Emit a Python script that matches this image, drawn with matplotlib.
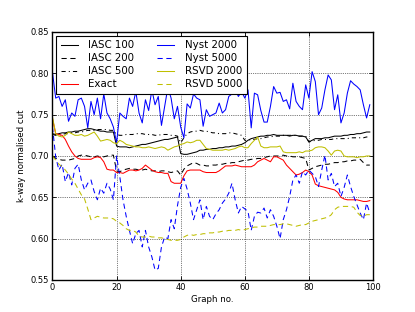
import numpy as np
import matplotlib
matplotlib.use("Agg")
import matplotlib.pyplot as plt

graph_no = np.arange(100)

iasc_100 = [0.727, 0.726, 0.727, 0.728, 0.728, 0.729, 0.729, 0.730, 0.730, 0.731,
            0.732, 0.733, 0.733, 0.732, 0.731, 0.730, 0.730, 0.729, 0.729, 0.729,
            0.712, 0.711, 0.711, 0.711, 0.710, 0.711, 0.712, 0.713, 0.714, 0.714,
            0.715, 0.716, 0.717, 0.718, 0.719, 0.720, 0.720, 0.721, 0.722, 0.723,
            0.703, 0.702, 0.702, 0.703, 0.704, 0.705, 0.707, 0.707, 0.708, 0.708,
            0.709, 0.709, 0.710, 0.710, 0.711, 0.711, 0.712, 0.712, 0.713, 0.714,
            0.716, 0.719, 0.721, 0.722, 0.723, 0.724, 0.724, 0.725, 0.725, 0.726,
            0.725, 0.725, 0.725, 0.725, 0.724, 0.725, 0.725, 0.724, 0.724, 0.723,
            0.717, 0.719, 0.721, 0.721, 0.721, 0.722, 0.722, 0.723, 0.724, 0.724,
            0.724, 0.725, 0.725, 0.726, 0.726, 0.727, 0.727, 0.728, 0.729, 0.729]

iasc_200 = [0.700, 0.697, 0.696, 0.695, 0.695, 0.695, 0.696, 0.697, 0.700, 0.701,
            0.701, 0.700, 0.699, 0.699, 0.700, 0.699, 0.699, 0.700, 0.701, 0.701,
            0.682, 0.681, 0.683, 0.684, 0.685, 0.684, 0.684, 0.683, 0.683, 0.684,
            0.683, 0.682, 0.682, 0.681, 0.682, 0.682, 0.681, 0.680, 0.681, 0.682,
            0.677, 0.684, 0.688, 0.690, 0.692, 0.691, 0.689, 0.689, 0.688, 0.688,
            0.689, 0.689, 0.690, 0.690, 0.691, 0.691, 0.692, 0.692, 0.693, 0.694,
            0.695, 0.695, 0.696, 0.696, 0.697, 0.697, 0.698, 0.699, 0.700, 0.700,
            0.700, 0.700, 0.701, 0.700, 0.700, 0.699, 0.699, 0.699, 0.698, 0.697,
            0.683, 0.685, 0.687, 0.688, 0.689, 0.690, 0.690, 0.691, 0.692, 0.692,
            0.693, 0.693, 0.694, 0.694, 0.695, 0.695, 0.696, 0.692, 0.689, 0.689]

iasc_500 = [0.726, 0.725, 0.725, 0.726, 0.727, 0.727, 0.728, 0.728, 0.729, 0.729,
            0.730, 0.731, 0.731, 0.731, 0.732, 0.732, 0.732, 0.732, 0.731, 0.731,
            0.726, 0.725, 0.725, 0.726, 0.726, 0.726, 0.727, 0.727, 0.727, 0.726,
            0.726, 0.726, 0.725, 0.725, 0.726, 0.726, 0.726, 0.725, 0.725, 0.724,
            0.716, 0.722, 0.727, 0.729, 0.730, 0.730, 0.731, 0.730, 0.730, 0.729,
            0.728, 0.728, 0.727, 0.727, 0.727, 0.728, 0.728, 0.727, 0.726, 0.725,
            0.719, 0.719, 0.720, 0.720, 0.721, 0.721, 0.722, 0.723, 0.723, 0.724,
            0.724, 0.724, 0.725, 0.725, 0.725, 0.725, 0.725, 0.724, 0.724, 0.724,
            0.717, 0.718, 0.719, 0.719, 0.720, 0.720, 0.720, 0.720, 0.721, 0.721,
            0.721, 0.721, 0.721, 0.722, 0.722, 0.722, 0.722, 0.722, 0.723, 0.723]

exact = [0.745, 0.727, 0.726, 0.725, 0.720, 0.712, 0.705, 0.700, 0.697, 0.696,
         0.696, 0.696, 0.696, 0.698, 0.699, 0.698, 0.693, 0.684, 0.683, 0.683,
         0.680, 0.680, 0.679, 0.681, 0.683, 0.683, 0.682, 0.683, 0.685, 0.689,
         0.686, 0.683, 0.681, 0.680, 0.680, 0.679, 0.679, 0.669, 0.667, 0.667,
         0.667, 0.676, 0.682, 0.683, 0.683, 0.683, 0.683, 0.681, 0.680, 0.680,
         0.680, 0.680, 0.682, 0.685, 0.688, 0.688, 0.688, 0.689, 0.688, 0.687,
         0.687, 0.687, 0.687, 0.689, 0.693, 0.695, 0.697, 0.695, 0.693, 0.699,
         0.699, 0.697, 0.695, 0.689, 0.685, 0.681, 0.677, 0.678, 0.680, 0.683,
         0.681, 0.677, 0.666, 0.664, 0.663, 0.662, 0.661, 0.660, 0.659, 0.656,
         0.650, 0.648, 0.647, 0.647, 0.647, 0.647, 0.646, 0.645, 0.645, 0.646]

nyst_2000 = [0.801, 0.770, 0.772, 0.760, 0.768, 0.742, 0.752, 0.748, 0.768, 0.770,
             0.760, 0.734, 0.766, 0.750, 0.770, 0.745, 0.775, 0.752, 0.745, 0.735,
             0.716, 0.752, 0.748, 0.745, 0.770, 0.760, 0.778, 0.752, 0.740, 0.768,
             0.755, 0.780, 0.762, 0.772, 0.737, 0.760, 0.783, 0.770, 0.745, 0.760,
             0.735, 0.722, 0.763, 0.758, 0.775, 0.770, 0.768, 0.736, 0.756, 0.748,
             0.750, 0.752, 0.764, 0.752, 0.756, 0.772, 0.775, 0.780, 0.772, 0.778,
             0.770, 0.780, 0.734, 0.776, 0.774, 0.755, 0.741, 0.741, 0.760, 0.784,
             0.776, 0.777, 0.766, 0.768, 0.757, 0.788, 0.766, 0.760, 0.756, 0.786,
             0.770, 0.802, 0.790, 0.750, 0.758, 0.780, 0.798, 0.792, 0.756, 0.774,
             0.740, 0.752, 0.776, 0.791, 0.787, 0.784, 0.780, 0.762, 0.746, 0.762]

nyst_5000 = [0.735, 0.699, 0.683, 0.690, 0.669, 0.680, 0.665, 0.685, 0.690, 0.671,
             0.659, 0.667, 0.671, 0.657, 0.647, 0.661, 0.655, 0.667, 0.660, 0.647,
             0.700, 0.675, 0.647, 0.627, 0.610, 0.594, 0.606, 0.610, 0.590, 0.610,
             0.590, 0.578, 0.562, 0.564, 0.590, 0.602, 0.600, 0.623, 0.612, 0.640,
             0.662, 0.673, 0.660, 0.643, 0.623, 0.635, 0.647, 0.623, 0.639, 0.627,
             0.623, 0.630, 0.635, 0.643, 0.648, 0.655, 0.667, 0.647, 0.631, 0.639,
             0.636, 0.633, 0.610, 0.627, 0.632, 0.631, 0.637, 0.625, 0.635, 0.627,
             0.615, 0.600, 0.623, 0.635, 0.651, 0.671, 0.677, 0.667, 0.681, 0.677,
             0.683, 0.679, 0.675, 0.663, 0.683, 0.701, 0.671, 0.679, 0.663, 0.667,
             0.651, 0.662, 0.677, 0.663, 0.651, 0.641, 0.631, 0.623, 0.643, 0.631]

rsvd_2000 = [0.747, 0.727, 0.724, 0.723, 0.725, 0.729, 0.727, 0.725, 0.725, 0.726,
             0.724, 0.725, 0.727, 0.729, 0.724, 0.718, 0.719, 0.720, 0.719, 0.716,
             0.715, 0.719, 0.717, 0.714, 0.713, 0.712, 0.711, 0.711, 0.710, 0.710,
             0.711, 0.710, 0.709, 0.710, 0.711, 0.710, 0.707, 0.709, 0.711, 0.712,
             0.714, 0.715, 0.717, 0.716, 0.717, 0.719, 0.719, 0.714, 0.709, 0.708,
             0.707, 0.707, 0.707, 0.707, 0.708, 0.707, 0.708, 0.709, 0.711, 0.712,
             0.710, 0.710, 0.715, 0.719, 0.723, 0.712, 0.710, 0.710, 0.711, 0.711,
             0.711, 0.712, 0.705, 0.704, 0.704, 0.704, 0.704, 0.705, 0.704, 0.706,
             0.706, 0.707, 0.710, 0.711, 0.711, 0.710, 0.706, 0.701, 0.706, 0.707,
             0.706, 0.700, 0.699, 0.699, 0.699, 0.698, 0.699, 0.699, 0.700, 0.700]

rsvd_5000 = [0.700, 0.695, 0.690, 0.687, 0.683, 0.678, 0.672, 0.667, 0.660, 0.653,
             0.648, 0.636, 0.623, 0.625, 0.627, 0.626, 0.625, 0.625, 0.625, 0.624,
             0.621, 0.619, 0.616, 0.612, 0.610, 0.610, 0.608, 0.603, 0.602, 0.602,
             0.603, 0.602, 0.602, 0.601, 0.601, 0.600, 0.599, 0.598, 0.598, 0.598,
             0.599, 0.602, 0.604, 0.605, 0.604, 0.605, 0.605, 0.606, 0.606, 0.607,
             0.607, 0.608, 0.608, 0.609, 0.609, 0.610, 0.610, 0.610, 0.611, 0.610,
             0.611, 0.612, 0.613, 0.614, 0.614, 0.615, 0.615, 0.615, 0.616, 0.617,
             0.617, 0.617, 0.618, 0.618, 0.617, 0.616, 0.615, 0.616, 0.617, 0.617,
             0.619, 0.621, 0.622, 0.623, 0.624, 0.625, 0.626, 0.629, 0.635, 0.638,
             0.639, 0.639, 0.639, 0.639, 0.638, 0.632, 0.628, 0.627, 0.629, 0.629]

dash = (0, (5, 3.5))
dashdot = (0, (4, 3, 1, 3))
yel = (0.75, 0.75, 0)
lw = 0.75
fs_tick = 6.0
fs_label = 6.2
fs_leg = 7.4

fig = plt.figure(figsize=(4.15, 3.12), dpi=100)
ax = fig.add_axes([0.1265, 0.1026, 0.7723, 0.7949])

ax.plot(graph_no, iasc_100, color='k', lw=lw, label='IASC 100')
ax.plot(graph_no, iasc_200, color='k', lw=lw, ls=dash, label='IASC 200')
ax.plot(graph_no, iasc_500, color='k', lw=lw, ls=dashdot, label='IASC 500')
ax.plot(graph_no, exact, color='r', lw=lw, label='Exact')
ax.plot(graph_no, nyst_2000, color='b', lw=lw, label='Nyst 2000')
ax.plot(graph_no, nyst_5000, color='b', lw=lw, ls=dash, label='Nyst 5000')
ax.plot(graph_no, rsvd_2000, color=yel, lw=lw, label='RSVD 2000')
ax.plot(graph_no, rsvd_5000, color=yel, lw=lw, ls=dash, label='RSVD 5000')

ax.set_xlim(0, 100)
ax.set_ylim(0.55, 0.85)
ax.set_xticks([0, 20, 40, 60, 80, 100])
ax.set_yticks([0.55, 0.60, 0.65, 0.70, 0.75, 0.80, 0.85])
ax.set_yticklabels(['%.2f' % v for v in ax.get_yticks()])
ax.tick_params(direction='in', top=True, right=True, length=3, width=0.6,
               labelsize=fs_tick, pad=2.5)
ax.grid(True, color='k', ls=':', lw=0.5)
for s in ax.spines.values():
    s.set_linewidth(1.0)

ax.set_xlabel('Graph no.', fontsize=fs_label, labelpad=1.5)
ax.set_ylabel('k-way normalised cut', fontsize=fs_label, labelpad=3)

leg = ax.legend(loc='upper left', ncol=2, fontsize=fs_leg, handlelength=1.65,
                handletextpad=1.05, columnspacing=2.2, labelspacing=0.3,
                borderaxespad=0.35, borderpad=0.45, fancybox=False, framealpha=1)
leg.get_frame().set_edgecolor('k')
leg.get_frame().set_linewidth(0.8)

plt.savefig("out.png", dpi=100)
plt.close(fig)
